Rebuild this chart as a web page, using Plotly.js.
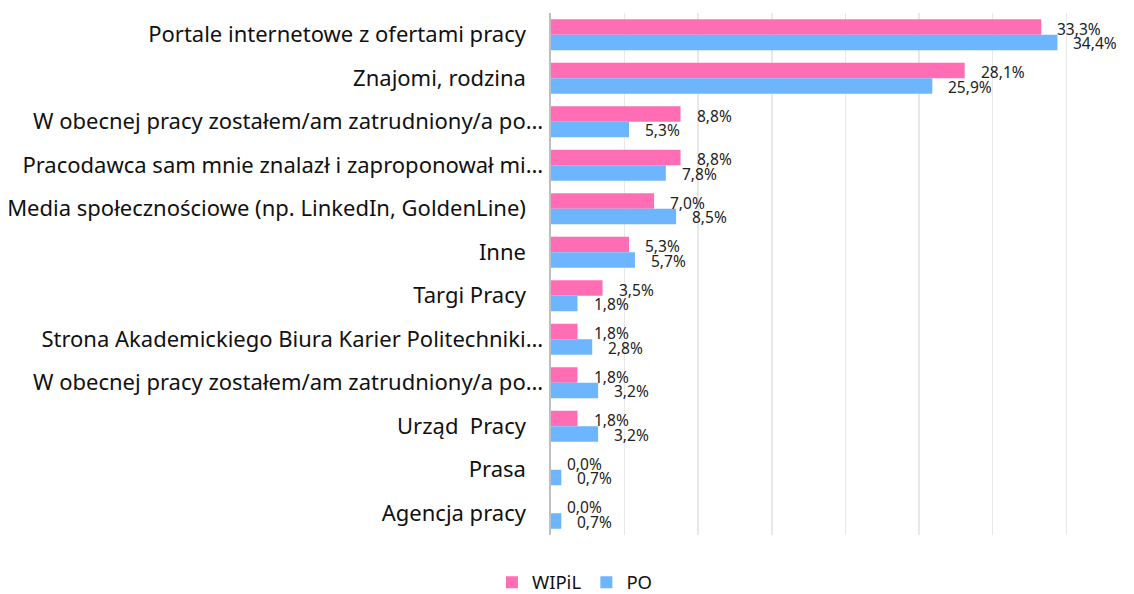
<!DOCTYPE html>
<html>
<head>
<meta charset="utf-8">
<script src="https://cdn.plot.ly/plotly-3.0.1.min.js"></script>
<style>html,body{margin:0;padding:0;background:#fff;}#chart{width:1134px;height:594px;}</style>
</head>
<body>
<div id="chart"></div>
<script>
const categories = [
  "Portale internetowe z ofertami pracy\u00a0\u00a0\u00a0",
  "Znajomi, rodzina\u00a0\u00a0\u00a0",
  "W obecnej pracy zostałem/am zatrudniony/a po…",
  "Pracodawca sam mnie znalazł i zaproponował mi…",
  "Media społecznościowe (np. LinkedIn, GoldenLine)\u00a0\u00a0\u00a0",
  "Inne\u00a0\u00a0\u00a0",
  "Targi Pracy\u00a0\u00a0\u00a0",
  "Strona Akademickiego Biura Karier Politechniki…",
  "W obecnej pracy zostałem/am zatrudniony/a po…\u200b",
  "Urząd\u00a0 Pracy\u00a0\u00a0\u00a0",
  "Prasa\u00a0\u00a0\u00a0",
  "Agencja pracy\u00a0\u00a0\u00a0"
];
const wipil = [33.3, 28.1, 8.8, 8.8, 7.0, 5.3, 3.5, 1.8, 1.8, 1.8, 0.0, 0.0];
const po    = [34.4, 25.9, 5.3, 7.8, 8.5, 5.7, 1.8, 2.8, 3.2, 3.2, 0.7, 0.7];
const seriesNames = ["WIPiL", "PO"];
const colors = ["#ff6eb4", "#6eb5ff"];

const fmt = v => v.toFixed(1).replace('.', ',') + '%';

const traces = [wipil, po].map((vals, i) => ({
  type: 'bar',
  orientation: 'h',
  name: seriesNames[i],
  x: vals,
  y: categories,
  marker: {color: colors[i]},
  hoverinfo: 'x+y'
}));

const annotations = [];
[wipil, po].forEach((vals, i) => {
  vals.forEach((v, j) => {
    annotations.push({
      x: v, y: categories[j], xref: 'x', yref: 'y',
      text: fmt(v), showarrow: false,
      xanchor: 'left', yanchor: 'middle',
      xshift: 14, yshift: i === 0 ? 6 : -8.5,
      font: {family: 'Noto Sans, sans-serif', size: 15.5, color: '#222'}
    });
  });
});

const layout = {
  width: 1134, height: 594,
  margin: {l: 551, r: 0, t: 13, b: 59, pad: 0},
  paper_bgcolor: '#fff', plot_bgcolor: '#fff',
  barmode: 'group', bargap: 0.287, bargroupgap: 0,
  font: {family: 'Noto Sans, sans-serif', color: '#111'},
  xaxis: {
    range: [0, 39.6], dtick: 5, tick0: 0,
    showgrid: true, gridcolor: '#e8e8e8', gridwidth: 1.5,
    showticklabels: false, zeroline: false, showline: false, fixedrange: true
  },
  yaxis: {
    type: 'category', autorange: 'reversed',
    showline: true, linecolor: '#bfbfbf', linewidth: 2.5,
    ticks: '', showgrid: false, ticklabelstandoff: 1,
    tickfont: {family: 'Noto Sans, sans-serif', size: 22, color: '#111'}
  },
  showlegend: true,
  legend: {
    orientation: 'h', xref: 'container', yref: 'container',
    x: 0.507, xanchor: 'center', y: 0.019, yanchor: 'middle',
    font: {family: 'Noto Sans, sans-serif', size: 18.5, color: '#111'},
    itemwidth: 30, traceorder: 'normal'
  },
  annotations: annotations
};

Plotly.newPlot('chart', traces, layout, {displayModeBar: false, staticPlot: true});
</script>
</body>
</html>
